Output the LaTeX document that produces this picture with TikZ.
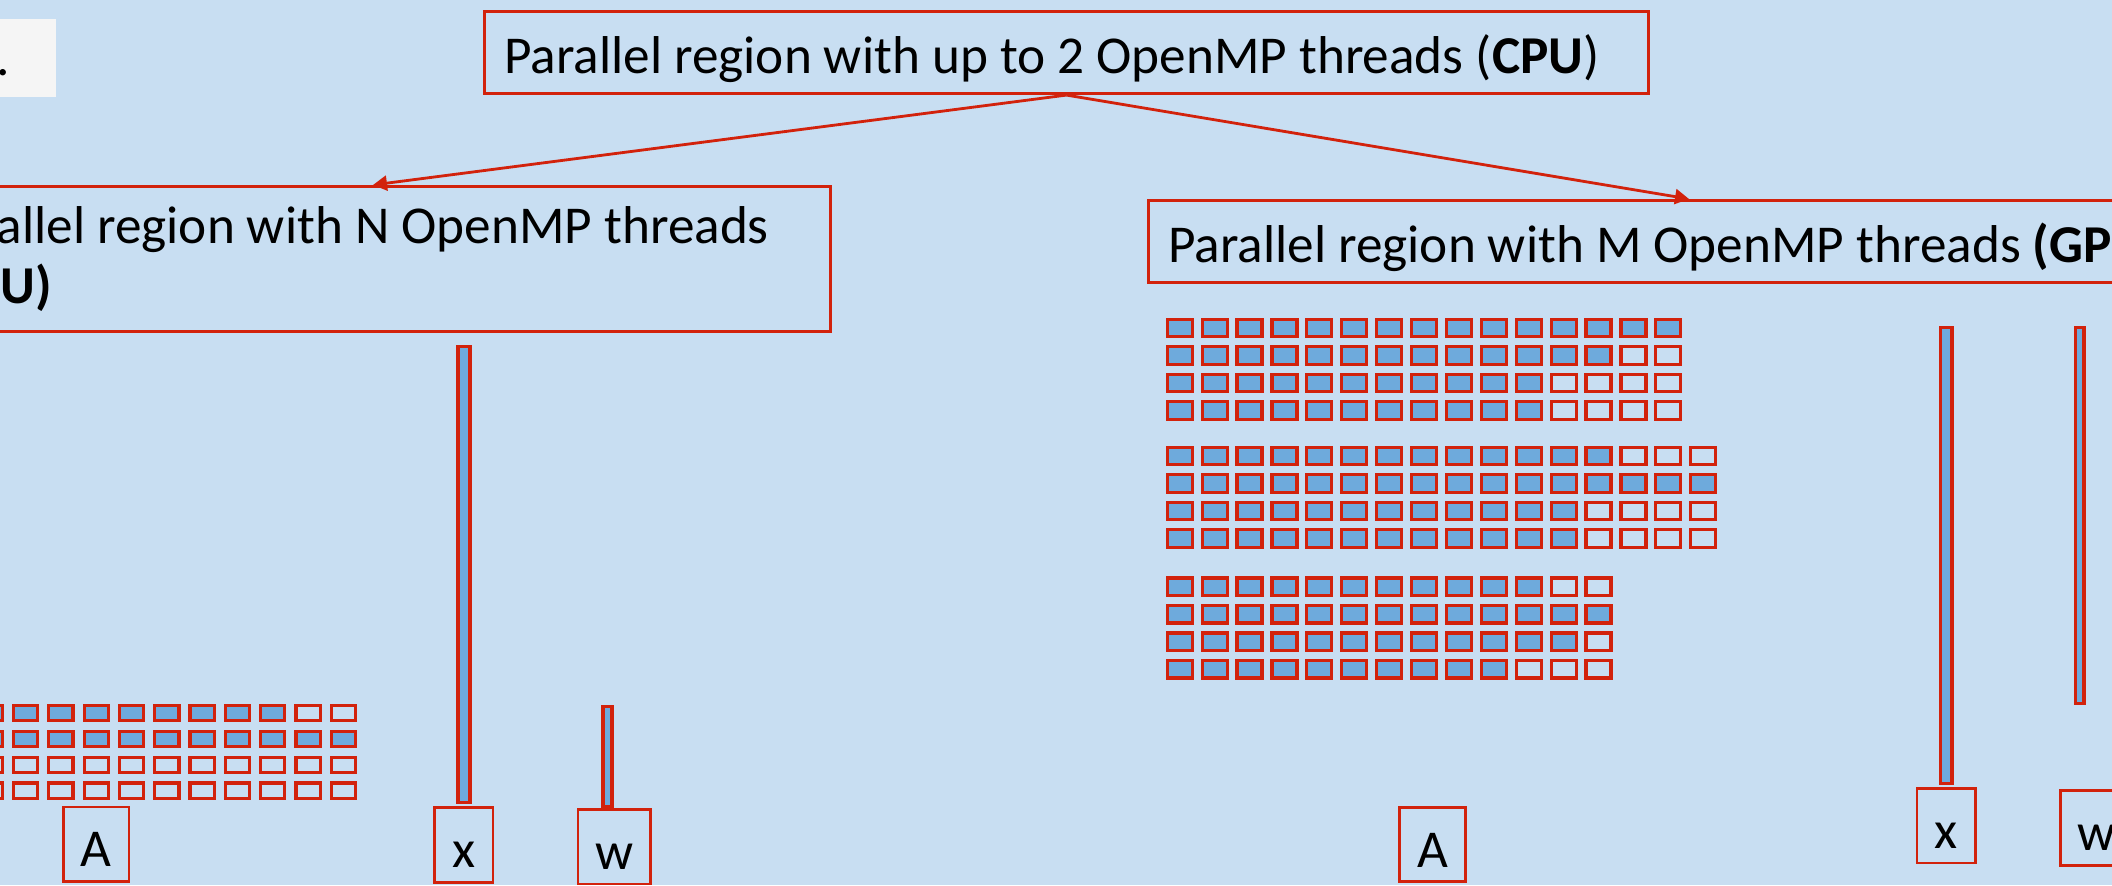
\documentclass[tikz,border=0pt]{standalone}
\usepackage{fontspec}
\setmainfont{Carlito}
\usepackage{tikz}
\usetikzlibrary{arrows.meta,positioning,calc}
\definecolor{slidebg}{HTML}{C8DEF2}
\definecolor{boxred}{HTML}{D2220C}
\definecolor{cellblue}{HTML}{6EAADC}
\definecolor{notewhite}{HTML}{F5F5F5}
\tikzset{
  region/.style={draw=boxred, line width=0.75pt, inner ysep=0pt, inner xsep=0.2cm, align=flush left},
  oneline/.style={text height=0.41cm, text depth=0pt},
  namebox/.style={draw=boxred, line width=0.75pt, inner sep=0pt, minimum height=0.745cm, text height=0.45cm, text depth=0pt},
  cell/.style={draw=boxred, line width=0.9pt},
  fullcell/.style={cell, fill=cellblue},
  vec/.style={draw=boxred, line width=0.9pt, fill=cellblue}
}

\begin{document}
\begin{tikzpicture}[->,>={Triangle[length=0.14cm,width=0.15cm]},shorten >=0pt,semithick,
       font=\fontsize{15.15}{17.07}\selectfont]
      \useasboundingbox (0,0) rectangle (21.12,-8.85);
      \clip (0,0) rectangle (21.12,-8.85);
      \fill[slidebg] (0,0) rectangle (21.12,-8.85);
      \node[fill=notewhite, minimum width=1cm, minimum height=0.78cm, anchor=north east] (note) at (0.57,-0.18) {};
      \node[anchor=base west, inner sep=0pt] (notedot) at (-0.05,-0.75) {.};
      \node[region, oneline, text width=11.245cm, minimum height=0.825cm] (outer) at (10.665,-0.525) {Parallel region with up to 2 OpenMP threads (\textbf{CPU})};
      \node[region, inner xsep=0.12cm, text width=8.915cm, minimum height=1.455cm] (cpu) at (3.73,-2.59) {Parallel region with N OpenMP threads \textbf{(CPU)}};
      \node[region, oneline, text width=10.415cm, minimum height=0.825cm] (gpu) at (16.89,-2.415) {Parallel region with M OpenMP threads \textbf{(GPU)}};
      \path (outer.south) edge[boxred, line width=0.8pt] node {} (cpu.north);
      \path (outer.south) edge[boxred, line width=0.8pt] node {} (gpu.north);

      % CPU side: matrix, vectors
      \foreach \nf [count=\r from 0] in {11,13,0,0}
        \foreach \c in {1,...,13}{
          \ifnum\c>\nf \def\cellstyle{cell}\else \def\cellstyle{fullcell}\fi
          \draw[-, \cellstyle] ({-1.2765+\c*0.353},{-7.0555-\r*0.258}) rectangle ++(0.242,-0.153);
        }
      \draw[-, vec] (4.58,-3.467) rectangle (4.70,-8.025);
      \draw[-, vec] (6.03,-7.061) rectangle (6.12,-8.063);
      \node[namebox, minimum width=0.655cm] (AL) at (0.964,-8.444) {A};
      \node[namebox, minimum width=0.585cm] (xL) at (4.638,-8.45) {x};
      \node[namebox, minimum width=0.725cm] (wL) at (6.142,-8.467) {w};

      % GPU side: three blocks of the matrix, vectors
      \foreach \top/\ncol/\fa/\fb/\fc/\fd in {3.1925/15/15/13/11/11, 4.4725/16/13/16/12/12, 5.7795/13/11/13/12/10}
        \foreach \nf [count=\r from 0] in {\fa,\fb,\fc,\fd}
          \foreach \c in {1,...,\ncol}{
            \ifnum\c>\nf \def\cellstyle{cell}\else \def\cellstyle{fullcell}\fi
            \draw[-, \cellstyle] ({11.3235+\c*0.349},{-\top-\r*0.275}) rectangle ++(0.25,-0.175);
          }
      \draw[-, vec] (19.405,-3.272) rectangle (19.52,-7.835);
      \draw[-, vec] (20.752,-3.272) rectangle (20.84,-7.038);
      \node[namebox, minimum width=0.655cm] (AR) at (14.325,-8.445) {A};
      \node[namebox, minimum width=0.585cm] (xR) at (19.462,-8.256) {x};
      \node[namebox, minimum width=0.725cm] (wR) at (20.97,-8.28) {w};
\end{tikzpicture}
\end{document}
